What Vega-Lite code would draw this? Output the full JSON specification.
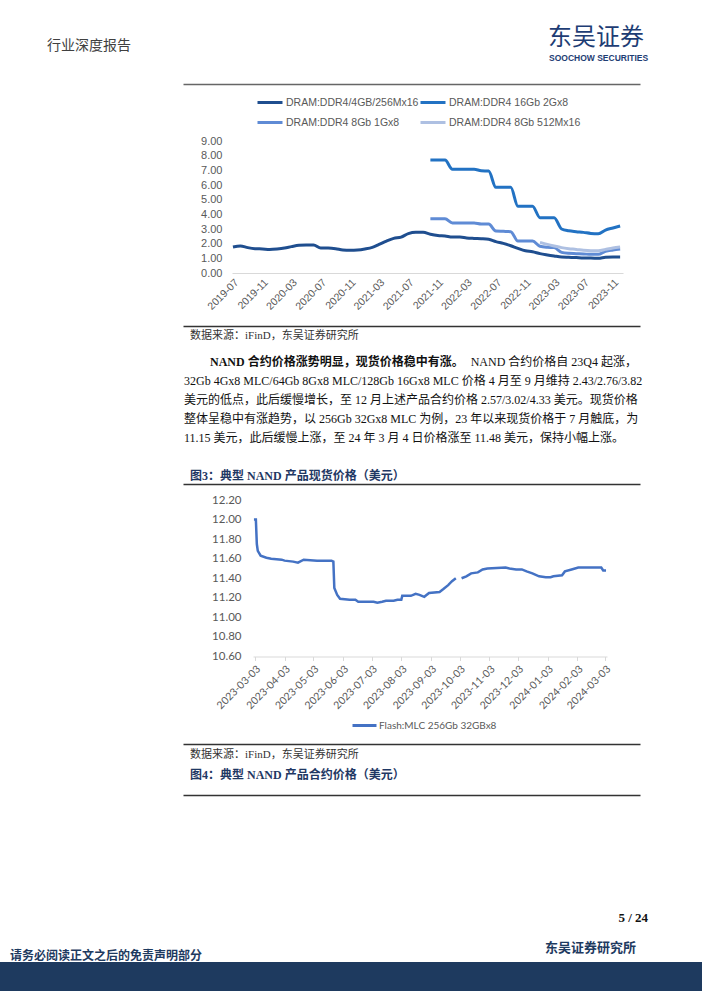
{
  "$schema": "https://vega.github.io/schema/vega-lite/v6.json",
  "padding": 0,
  "spacing": 0,
  "background": "white",
  "config": {"view": {"stroke": null}},
  "resolve": {"scale": {"color": "independent", "x": "independent", "y": "independent"}, "legend": {"color": "independent"}, "axis": {"x": "independent", "y": "independent"}},
  "vconcat": [
    {
      "width": 702, "height": 85,
      "data": {"values": [
        {"role": "header", "text": "行业深度报告"},
        {"role": "logo", "text": "东吴证券"},
        {"role": "logosub", "text": "SOOCHOW SECURITIES"}
      ]},
      "encoding": {
        "x": {"datum": 0, "type": "quantitative", "scale": {"domain": [0, 1], "range": [183, 640]},
              "axis": {"orient": "bottom", "offset": -1, "domainColor": "#666666", "domainWidth": 1.5, "labels": false, "ticks": false, "grid": false, "title": null}},
        "text": {"field": "text"}
      },
      "layer": [
        {"transform": [{"filter": "datum.role === 'header'"}],
         "mark": {"type": "text", "align": "left", "baseline": "middle", "dx": -136, "dy": 3, "font": "Liberation Serif, Noto Sans CJK SC", "fontSize": 14, "color": "#404040"}},
        {"transform": [{"filter": "datum.role === 'logo'"}],
         "mark": {"type": "text", "align": "left", "baseline": "middle", "dx": 365, "dy": -5, "font": "Noto Sans CJK SC", "fontSize": 24, "color": "#1E3D74"}},
        {"transform": [{"filter": "datum.role === 'logosub'"}],
         "mark": {"type": "text", "align": "left", "baseline": "middle", "dx": 366, "dy": 15, "font": "Liberation Sans", "fontSize": 8.5, "fontWeight": "bold", "color": "#1E3D74"}}
      ]
    },
    {
      "width": 702, "height": 240,
      "data": {"values": [
        {"series": "DRAM:DDR4/4GB/256Mx16", "month": "2019-07-01", "price": 1.77},
        {"series": "DRAM:DDR4/4GB/256Mx16", "month": "2019-08-01", "price": 1.84},
        {"series": "DRAM:DDR4/4GB/256Mx16", "month": "2019-09-01", "price": 1.73},
        {"series": "DRAM:DDR4/4GB/256Mx16", "month": "2019-10-01", "price": 1.66},
        {"series": "DRAM:DDR4/4GB/256Mx16", "month": "2019-11-01", "price": 1.64},
        {"series": "DRAM:DDR4/4GB/256Mx16", "month": "2019-12-01", "price": 1.61},
        {"series": "DRAM:DDR4/4GB/256Mx16", "month": "2020-01-01", "price": 1.64},
        {"series": "DRAM:DDR4/4GB/256Mx16", "month": "2020-02-01", "price": 1.70},
        {"series": "DRAM:DDR4/4GB/256Mx16", "month": "2020-03-01", "price": 1.80},
        {"series": "DRAM:DDR4/4GB/256Mx16", "month": "2020-04-01", "price": 1.89},
        {"series": "DRAM:DDR4/4GB/256Mx16", "month": "2020-05-01", "price": 1.91},
        {"series": "DRAM:DDR4/4GB/256Mx16", "month": "2020-06-01", "price": 1.91},
        {"series": "DRAM:DDR4/4GB/256Mx16", "month": "2020-07-01", "price": 1.70},
        {"series": "DRAM:DDR4/4GB/256Mx16", "month": "2020-08-01", "price": 1.70},
        {"series": "DRAM:DDR4/4GB/256Mx16", "month": "2020-09-01", "price": 1.66},
        {"series": "DRAM:DDR4/4GB/256Mx16", "month": "2020-10-01", "price": 1.57},
        {"series": "DRAM:DDR4/4GB/256Mx16", "month": "2020-11-01", "price": 1.55},
        {"series": "DRAM:DDR4/4GB/256Mx16", "month": "2020-12-01", "price": 1.57},
        {"series": "DRAM:DDR4/4GB/256Mx16", "month": "2021-01-01", "price": 1.64},
        {"series": "DRAM:DDR4/4GB/256Mx16", "month": "2021-02-01", "price": 1.75},
        {"series": "DRAM:DDR4/4GB/256Mx16", "month": "2021-03-01", "price": 1.95},
        {"series": "DRAM:DDR4/4GB/256Mx16", "month": "2021-04-01", "price": 2.18},
        {"series": "DRAM:DDR4/4GB/256Mx16", "month": "2021-05-01", "price": 2.36},
        {"series": "DRAM:DDR4/4GB/256Mx16", "month": "2021-06-01", "price": 2.45},
        {"series": "DRAM:DDR4/4GB/256Mx16", "month": "2021-07-01", "price": 2.68},
        {"series": "DRAM:DDR4/4GB/256Mx16", "month": "2021-08-01", "price": 2.77},
        {"series": "DRAM:DDR4/4GB/256Mx16", "month": "2021-09-01", "price": 2.77},
        {"series": "DRAM:DDR4/4GB/256Mx16", "month": "2021-10-01", "price": 2.64},
        {"series": "DRAM:DDR4/4GB/256Mx16", "month": "2021-11-01", "price": 2.55},
        {"series": "DRAM:DDR4/4GB/256Mx16", "month": "2021-12-01", "price": 2.52},
        {"series": "DRAM:DDR4/4GB/256Mx16", "month": "2022-01-01", "price": 2.45},
        {"series": "DRAM:DDR4/4GB/256Mx16", "month": "2022-02-01", "price": 2.45},
        {"series": "DRAM:DDR4/4GB/256Mx16", "month": "2022-03-01", "price": 2.39},
        {"series": "DRAM:DDR4/4GB/256Mx16", "month": "2022-04-01", "price": 2.36},
        {"series": "DRAM:DDR4/4GB/256Mx16", "month": "2022-05-01", "price": 2.34},
        {"series": "DRAM:DDR4/4GB/256Mx16", "month": "2022-06-01", "price": 2.30},
        {"series": "DRAM:DDR4/4GB/256Mx16", "month": "2022-07-01", "price": 2.14},
        {"series": "DRAM:DDR4/4GB/256Mx16", "month": "2022-08-01", "price": 2.02},
        {"series": "DRAM:DDR4/4GB/256Mx16", "month": "2022-09-01", "price": 1.86},
        {"series": "DRAM:DDR4/4GB/256Mx16", "month": "2022-10-01", "price": 1.68},
        {"series": "DRAM:DDR4/4GB/256Mx16", "month": "2022-11-01", "price": 1.52},
        {"series": "DRAM:DDR4/4GB/256Mx16", "month": "2022-12-01", "price": 1.45},
        {"series": "DRAM:DDR4/4GB/256Mx16", "month": "2023-01-01", "price": 1.32},
        {"series": "DRAM:DDR4/4GB/256Mx16", "month": "2023-02-01", "price": 1.23},
        {"series": "DRAM:DDR4/4GB/256Mx16", "month": "2023-03-01", "price": 1.16},
        {"series": "DRAM:DDR4/4GB/256Mx16", "month": "2023-04-01", "price": 1.09},
        {"series": "DRAM:DDR4/4GB/256Mx16", "month": "2023-05-01", "price": 1.07},
        {"series": "DRAM:DDR4/4GB/256Mx16", "month": "2023-06-01", "price": 1.05},
        {"series": "DRAM:DDR4/4GB/256Mx16", "month": "2023-07-01", "price": 1.02},
        {"series": "DRAM:DDR4/4GB/256Mx16", "month": "2023-08-01", "price": 1.02},
        {"series": "DRAM:DDR4/4GB/256Mx16", "month": "2023-09-01", "price": 1.00},
        {"series": "DRAM:DDR4/4GB/256Mx16", "month": "2023-10-01", "price": 1.07},
        {"series": "DRAM:DDR4/4GB/256Mx16", "month": "2023-11-01", "price": 1.09},
        {"series": "DRAM:DDR4/4GB/256Mx16", "month": "2023-12-01", "price": 1.09},
        {"series": "DRAM:DDR4 16Gb 2Gx8", "month": "2021-10-01", "price": 7.70},
        {"series": "DRAM:DDR4 16Gb 2Gx8", "month": "2021-11-01", "price": 7.70},
        {"series": "DRAM:DDR4 16Gb 2Gx8", "month": "2021-12-01", "price": 7.70},
        {"series": "DRAM:DDR4 16Gb 2Gx8", "month": "2022-01-01", "price": 7.07},
        {"series": "DRAM:DDR4 16Gb 2Gx8", "month": "2022-02-01", "price": 7.07},
        {"series": "DRAM:DDR4 16Gb 2Gx8", "month": "2022-03-01", "price": 7.07},
        {"series": "DRAM:DDR4 16Gb 2Gx8", "month": "2022-04-01", "price": 7.07},
        {"series": "DRAM:DDR4 16Gb 2Gx8", "month": "2022-05-01", "price": 6.97},
        {"series": "DRAM:DDR4 16Gb 2Gx8", "month": "2022-06-01", "price": 6.95},
        {"series": "DRAM:DDR4 16Gb 2Gx8", "month": "2022-07-01", "price": 5.84},
        {"series": "DRAM:DDR4 16Gb 2Gx8", "month": "2022-08-01", "price": 5.84},
        {"series": "DRAM:DDR4 16Gb 2Gx8", "month": "2022-09-01", "price": 5.84},
        {"series": "DRAM:DDR4 16Gb 2Gx8", "month": "2022-10-01", "price": 4.55},
        {"series": "DRAM:DDR4 16Gb 2Gx8", "month": "2022-11-01", "price": 4.55},
        {"series": "DRAM:DDR4 16Gb 2Gx8", "month": "2022-12-01", "price": 4.55},
        {"series": "DRAM:DDR4 16Gb 2Gx8", "month": "2023-01-01", "price": 3.77},
        {"series": "DRAM:DDR4 16Gb 2Gx8", "month": "2023-02-01", "price": 3.77},
        {"series": "DRAM:DDR4 16Gb 2Gx8", "month": "2023-03-01", "price": 3.77},
        {"series": "DRAM:DDR4 16Gb 2Gx8", "month": "2023-04-01", "price": 3.00},
        {"series": "DRAM:DDR4 16Gb 2Gx8", "month": "2023-05-01", "price": 2.88},
        {"series": "DRAM:DDR4 16Gb 2Gx8", "month": "2023-06-01", "price": 2.82},
        {"series": "DRAM:DDR4 16Gb 2Gx8", "month": "2023-07-01", "price": 2.77},
        {"series": "DRAM:DDR4 16Gb 2Gx8", "month": "2023-08-01", "price": 2.70},
        {"series": "DRAM:DDR4 16Gb 2Gx8", "month": "2023-09-01", "price": 2.68},
        {"series": "DRAM:DDR4 16Gb 2Gx8", "month": "2023-10-01", "price": 2.93},
        {"series": "DRAM:DDR4 16Gb 2Gx8", "month": "2023-11-01", "price": 3.07},
        {"series": "DRAM:DDR4 16Gb 2Gx8", "month": "2023-12-01", "price": 3.20},
        {"series": "DRAM:DDR4 8Gb 1Gx8", "month": "2021-10-01", "price": 3.70},
        {"series": "DRAM:DDR4 8Gb 1Gx8", "month": "2021-11-01", "price": 3.70},
        {"series": "DRAM:DDR4 8Gb 1Gx8", "month": "2021-12-01", "price": 3.70},
        {"series": "DRAM:DDR4 8Gb 1Gx8", "month": "2022-01-01", "price": 3.41},
        {"series": "DRAM:DDR4 8Gb 1Gx8", "month": "2022-02-01", "price": 3.41},
        {"series": "DRAM:DDR4 8Gb 1Gx8", "month": "2022-03-01", "price": 3.41},
        {"series": "DRAM:DDR4 8Gb 1Gx8", "month": "2022-04-01", "price": 3.41},
        {"series": "DRAM:DDR4 8Gb 1Gx8", "month": "2022-05-01", "price": 3.34},
        {"series": "DRAM:DDR4 8Gb 1Gx8", "month": "2022-06-01", "price": 3.34},
        {"series": "DRAM:DDR4 8Gb 1Gx8", "month": "2022-07-01", "price": 2.86},
        {"series": "DRAM:DDR4 8Gb 1Gx8", "month": "2022-08-01", "price": 2.84},
        {"series": "DRAM:DDR4 8Gb 1Gx8", "month": "2022-09-01", "price": 2.82},
        {"series": "DRAM:DDR4 8Gb 1Gx8", "month": "2022-10-01", "price": 2.18},
        {"series": "DRAM:DDR4 8Gb 1Gx8", "month": "2022-11-01", "price": 2.18},
        {"series": "DRAM:DDR4 8Gb 1Gx8", "month": "2022-12-01", "price": 2.18},
        {"series": "DRAM:DDR4 8Gb 1Gx8", "month": "2023-01-01", "price": 1.82},
        {"series": "DRAM:DDR4 8Gb 1Gx8", "month": "2023-02-01", "price": 1.75},
        {"series": "DRAM:DDR4 8Gb 1Gx8", "month": "2023-03-01", "price": 1.73},
        {"series": "DRAM:DDR4 8Gb 1Gx8", "month": "2023-04-01", "price": 1.41},
        {"series": "DRAM:DDR4 8Gb 1Gx8", "month": "2023-05-01", "price": 1.34},
        {"series": "DRAM:DDR4 8Gb 1Gx8", "month": "2023-06-01", "price": 1.32},
        {"series": "DRAM:DDR4 8Gb 1Gx8", "month": "2023-07-01", "price": 1.30},
        {"series": "DRAM:DDR4 8Gb 1Gx8", "month": "2023-08-01", "price": 1.27},
        {"series": "DRAM:DDR4 8Gb 1Gx8", "month": "2023-09-01", "price": 1.27},
        {"series": "DRAM:DDR4 8Gb 1Gx8", "month": "2023-10-01", "price": 1.48},
        {"series": "DRAM:DDR4 8Gb 1Gx8", "month": "2023-11-01", "price": 1.57},
        {"series": "DRAM:DDR4 8Gb 1Gx8", "month": "2023-12-01", "price": 1.64},
        {"series": "DRAM:DDR4 8Gb 512Mx16", "month": "2023-01-01", "price": 2.09},
        {"series": "DRAM:DDR4 8Gb 512Mx16", "month": "2023-02-01", "price": 1.95},
        {"series": "DRAM:DDR4 8Gb 512Mx16", "month": "2023-03-01", "price": 1.84},
        {"series": "DRAM:DDR4 8Gb 512Mx16", "month": "2023-04-01", "price": 1.73},
        {"series": "DRAM:DDR4 8Gb 512Mx16", "month": "2023-05-01", "price": 1.66},
        {"series": "DRAM:DDR4 8Gb 512Mx16", "month": "2023-06-01", "price": 1.61},
        {"series": "DRAM:DDR4 8Gb 512Mx16", "month": "2023-07-01", "price": 1.55},
        {"series": "DRAM:DDR4 8Gb 512Mx16", "month": "2023-08-01", "price": 1.52},
        {"series": "DRAM:DDR4 8Gb 512Mx16", "month": "2023-09-01", "price": 1.52},
        {"series": "DRAM:DDR4 8Gb 512Mx16", "month": "2023-10-01", "price": 1.61},
        {"series": "DRAM:DDR4 8Gb 512Mx16", "month": "2023-11-01", "price": 1.70},
        {"series": "DRAM:DDR4 8Gb 512Mx16", "month": "2023-12-01", "price": 1.77}
      ]},
      "mark": {"type": "line", "strokeWidth": 3, "interpolate": "monotone"},
      "encoding": {
        "x": {"field": "month", "type": "temporal",
          "scale": {"type": "utc", "domain": [{"year": 2019, "month": 6, "date": 27, "utc": true}, {"year": 2023, "month": 12, "date": 13, "utc": true}], "range": [232, 623]},
          "axis": {"title": null, "grid": false, "format": "%Y-%m", "labelAngle": -45, "labelOverlap": false, "offset": -52, "domainColor": "#D9D9D9", "ticks": false, "labelPadding": 4,
            "labelFont": "Liberation Sans", "labelFontSize": 10.5, "labelColor": "#595959",
            "values": [
              {"year": 2019, "month": 7, "date": 1, "utc": true}, {"year": 2019, "month": 11, "date": 1, "utc": true},
              {"year": 2020, "month": 3, "date": 1, "utc": true}, {"year": 2020, "month": 7, "date": 1, "utc": true}, {"year": 2020, "month": 11, "date": 1, "utc": true},
              {"year": 2021, "month": 3, "date": 1, "utc": true}, {"year": 2021, "month": 7, "date": 1, "utc": true}, {"year": 2021, "month": 11, "date": 1, "utc": true},
              {"year": 2022, "month": 3, "date": 1, "utc": true}, {"year": 2022, "month": 7, "date": 1, "utc": true}, {"year": 2022, "month": 11, "date": 1, "utc": true},
              {"year": 2023, "month": 3, "date": 1, "utc": true}, {"year": 2023, "month": 7, "date": 1, "utc": true}, {"year": 2023, "month": 11, "date": 1, "utc": true}
            ]}},
        "y": {"field": "price", "type": "quantitative",
          "scale": {"domain": [0, 9], "range": [188, 56], "nice": false, "zero": false},
          "axis": {"title": null, "grid": false, "domain": false, "ticks": false, "offset": -232, "labelPadding": 10, "format": ".2f",
            "values": [0, 1, 2, 3, 4, 5, 6, 7, 8, 9],
            "labelFont": "Liberation Sans", "labelFontSize": 11, "labelColor": "#595959"}},
        "color": {"field": "series", "type": "nominal",
          "scale": {"domain": ["DRAM:DDR4/4GB/256Mx16", "DRAM:DDR4 16Gb 2Gx8", "DRAM:DDR4 8Gb 1Gx8", "DRAM:DDR4 8Gb 512Mx16"],
                    "range": ["#1F4E8F", "#2272C3", "#5F8BD5", "#AEC0E2"]},
          "legend": {"title": null, "orient": "none", "legendX": 256, "legendY": 3.5, "columns": 2, "direction": "horizontal",
            "symbolType": "stroke", "symbolSize": 625, "symbolStrokeWidth": 3, "labelOffset": 2,
            "columnPadding": -6, "rowPadding": -6,
            "labelFont": "Liberation Sans", "labelFontSize": 10.5, "labelColor": "#595959"}}
      }
    },
    {
      "width": 702, "height": 27,
      "data": {"values": [{"text": "数据来源：iFinD，东吴证券研究所"}]},
      "mark": {"type": "text", "align": "left", "baseline": "middle", "dx": 7, "dy": -3, "font": "Liberation Serif, Noto Sans CJK SC", "fontSize": 11, "color": "#333333"},
      "encoding": {
        "x": {"datum": 0, "type": "quantitative", "scale": {"domain": [0, 1], "range": [183, 640]},
              "axis": {"orient": "top", "offset": -1, "domainColor": "#333333", "domainWidth": 1.5, "labels": false, "ticks": false, "grid": false, "title": null}},
        "text": {"field": "text"}
      }
    },
    {
      "width": 702, "height": 96,
      "data": {"values": [
        {"line": 1, "part": "lead", "text": "NAND 合约价格涨势明显，现货价格稳中有涨。"},
        {"line": 1, "part": "body", "text": "NAND 合约价格自 23Q4 起涨，"},
        {"line": 2, "part": "body", "text": "32Gb 4Gx8 MLC/64Gb 8Gx8 MLC/128Gb 16Gx8 MLC 价格 4 月至 9 月维持 2.43/2.76/3.82"},
        {"line": 3, "part": "body", "text": "美元的低点，此后缓慢增长，至 12 月上述产品合约价格 2.57/3.02/4.33 美元。现货价格"},
        {"line": 4, "part": "body", "text": "整体呈稳中有涨趋势，以 256Gb 32Gx8 MLC 为例，23 年以来现货价格于 7 月触底，为"},
        {"line": 5, "part": "body", "text": "11.15 美元，此后缓慢上涨，至 24 年 3 月 4 日价格涨至 11.48 美元，保持小幅上涨。"}
      ]},
      "encoding": {
        "y": {"field": "line", "type": "ordinal", "axis": null, "scale": {"type": "point", "padding": 0.5}},
        "text": {"field": "text"}
      },
      "layer": [
        {"transform": [{"filter": "datum.part === 'lead'"}],
         "mark": {"type": "text", "align": "left", "baseline": "middle", "dx": -141, "font": "Liberation Serif, Noto Sans CJK SC", "fontSize": 12, "fontWeight": "bold", "color": "#111111"}},
        {"transform": [{"filter": "datum.part === 'body' && datum.line === 1"}],
         "mark": {"type": "text", "align": "right", "baseline": "middle", "dx": 286, "font": "Liberation Serif, Noto Sans CJK SC", "fontSize": 12, "color": "#111111"}},
        {"transform": [{"filter": "datum.line > 1"}],
         "mark": {"type": "text", "align": "left", "baseline": "middle", "dx": -167, "font": "Liberation Serif, Noto Sans CJK SC", "fontSize": 12, "color": "#111111"}}
      ]
    },
    {
      "width": 702, "height": 39,
      "data": {"values": [{"text": "图3：典型 NAND 产品现货价格（美元）"}]},
      "mark": {"type": "text", "align": "left", "baseline": "middle", "dx": 7, "dy": 8, "font": "Liberation Serif, Noto Sans CJK SC", "fontSize": 12, "fontWeight": "bold", "color": "#1F3864"},
      "encoding": {
        "x": {"datum": 0, "type": "quantitative", "scale": {"domain": [0, 1], "range": [183, 640]},
              "axis": {"orient": "bottom", "offset": -3, "domainColor": "#333333", "domainWidth": 1.5, "labels": false, "ticks": false, "grid": false, "title": null}},
        "text": {"field": "text"}
      }
    },
    {
      "width": 702, "height": 256,
      "data": {"values": [
        {"date": "2023-03-02", "price": 12.00},
        {"date": "2023-03-04", "price": 12.00},
        {"date": "2023-03-05", "price": 11.75},
        {"date": "2023-03-06", "price": 11.68},
        {"date": "2023-03-09", "price": 11.63},
        {"date": "2023-03-15", "price": 11.61},
        {"date": "2023-03-20", "price": 11.60},
        {"date": "2023-03-31", "price": 11.59},
        {"date": "2023-04-03", "price": 11.58},
        {"date": "2023-04-12", "price": 11.57},
        {"date": "2023-04-17", "price": 11.56},
        {"date": "2023-04-23", "price": 11.59},
        {"date": "2023-05-07", "price": 11.58},
        {"date": "2023-05-22", "price": 11.58},
        {"date": "2023-05-24", "price": 11.57},
        {"date": "2023-05-25", "price": 11.30},
        {"date": "2023-05-28", "price": 11.23},
        {"date": "2023-05-31", "price": 11.19},
        {"date": "2023-06-10", "price": 11.18},
        {"date": "2023-06-16", "price": 11.18},
        {"date": "2023-06-19", "price": 11.16},
        {"date": "2023-07-05", "price": 11.16},
        {"date": "2023-07-09", "price": 11.15},
        {"date": "2023-07-14", "price": 11.16},
        {"date": "2023-07-18", "price": 11.17},
        {"date": "2023-07-26", "price": 11.17},
        {"date": "2023-07-30", "price": 11.18},
        {"date": "2023-08-03", "price": 11.18},
        {"date": "2023-08-04", "price": 11.22},
        {"date": "2023-08-13", "price": 11.22},
        {"date": "2023-08-18", "price": 11.24},
        {"date": "2023-08-22", "price": 11.23},
        {"date": "2023-08-27", "price": 11.21},
        {"date": "2023-09-01", "price": 11.25},
        {"date": "2023-09-12", "price": 11.26},
        {"date": "2023-09-16", "price": 11.29},
        {"date": "2023-09-21", "price": 11.33},
        {"date": "2023-09-25", "price": 11.37},
        {"date": "2023-09-29", "price": 11.40},
        {"date": "2023-10-02", "price": null},
        {"date": "2023-10-05", "price": 11.40},
        {"date": "2023-10-10", "price": 11.42},
        {"date": "2023-10-15", "price": 11.45},
        {"date": "2023-10-22", "price": 11.46},
        {"date": "2023-10-27", "price": 11.49},
        {"date": "2023-11-01", "price": 11.50},
        {"date": "2023-11-20", "price": 11.51},
        {"date": "2023-11-24", "price": 11.50},
        {"date": "2023-12-01", "price": 11.49},
        {"date": "2023-12-07", "price": 11.49},
        {"date": "2023-12-12", "price": 11.47},
        {"date": "2023-12-18", "price": 11.45},
        {"date": "2023-12-25", "price": 11.42},
        {"date": "2024-01-01", "price": 11.41},
        {"date": "2024-01-06", "price": 11.41},
        {"date": "2024-01-09", "price": 11.42},
        {"date": "2024-01-18", "price": 11.43},
        {"date": "2024-01-21", "price": 11.47},
        {"date": "2024-01-28", "price": 11.49},
        {"date": "2024-02-04", "price": 11.51},
        {"date": "2024-02-28", "price": 11.51},
        {"date": "2024-03-01", "price": 11.48},
        {"date": "2024-03-04", "price": 11.48}
      ]},
      "mark": {"type": "line", "strokeWidth": 2.5, "invalid": "break-paths-show-domains"},
      "encoding": {
        "x": {"field": "date", "type": "temporal",
          "scale": {"type": "utc", "domain": [{"year": 2023, "month": 3, "date": 1, "utc": true}, {"year": 2024, "month": 3, "date": 5, "utc": true}], "range": [253, 607]},
          "axis": {"title": null, "grid": false, "format": "%Y-%m-%d", "labelAngle": -45, "labelOverlap": false, "offset": -86.5,
            "domainColor": "#D9D9D9", "tickColor": "#D9D9D9", "tickSize": 4, "labelPadding": 3,
            "labelFont": "Lato", "labelFontSize": 10.5, "labelColor": "#595959",
            "values": [
              {"year": 2023, "month": 3, "date": 3, "utc": true}, {"year": 2023, "month": 4, "date": 3, "utc": true},
              {"year": 2023, "month": 5, "date": 3, "utc": true}, {"year": 2023, "month": 6, "date": 3, "utc": true},
              {"year": 2023, "month": 7, "date": 3, "utc": true}, {"year": 2023, "month": 8, "date": 3, "utc": true},
              {"year": 2023, "month": 9, "date": 3, "utc": true}, {"year": 2023, "month": 10, "date": 3, "utc": true},
              {"year": 2023, "month": 11, "date": 3, "utc": true}, {"year": 2023, "month": 12, "date": 3, "utc": true},
              {"year": 2024, "month": 1, "date": 3, "utc": true}, {"year": 2024, "month": 2, "date": 3, "utc": true},
              {"year": 2024, "month": 3, "date": 3, "utc": true}
            ]}},
        "y": {"field": "price", "type": "quantitative",
          "scale": {"domain": [10.6, 12.2], "range": [169.5, 13], "nice": false, "zero": false},
          "axis": {"title": null, "grid": false, "domain": false, "ticks": false, "offset": -253, "labelPadding": 12, "format": ".2f",
            "values": [10.6, 10.8, 11.0, 11.2, 11.4, 11.6, 11.8, 12.0, 12.2],
            "labelFont": "Lato", "labelFontSize": 11.5, "labelColor": "#595959"}},
        "color": {"datum": "Flash:MLC 256Gb 32GBx8", "type": "nominal",
          "scale": {"range": ["#4472C4"]},
          "legend": {"title": null, "orient": "none", "legendX": 351, "legendY": 225,
            "symbolType": "stroke", "symbolSize": 576, "symbolStrokeWidth": 3, "labelOffset": 1,
            "labelFont": "Lato", "labelFontSize": 10, "labelColor": "#595959"}}
      }
    },
    {
      "width": 702, "height": 23,
      "data": {"values": [{"text": "数据来源：iFinD，东吴证券研究所"}]},
      "mark": {"type": "text", "align": "left", "baseline": "middle", "dx": 7, "font": "Liberation Serif, Noto Sans CJK SC", "fontSize": 11, "color": "#333333"},
      "encoding": {
        "x": {"datum": 0, "type": "quantitative", "scale": {"domain": [0, 1], "range": [183, 640]},
              "axis": {"orient": "top", "offset": -1, "domainColor": "#333333", "domainWidth": 1.5, "labels": false, "ticks": false, "grid": false, "title": null}},
        "text": {"field": "text"}
      }
    },
    {
      "width": 702, "height": 30,
      "data": {"values": [{"text": "图4：典型 NAND 产品合约价格（美元）"}]},
      "mark": {"type": "text", "align": "left", "baseline": "middle", "dx": 7, "dy": -6, "font": "Liberation Serif, Noto Sans CJK SC", "fontSize": 12, "fontWeight": "bold", "color": "#1F3864"},
      "encoding": {
        "x": {"datum": 0, "type": "quantitative", "scale": {"domain": [0, 1], "range": [183, 640]},
              "axis": {"orient": "bottom", "offset": -1, "domainColor": "#333333", "domainWidth": 1.5, "labels": false, "ticks": false, "grid": false, "title": null}},
        "text": {"field": "text"}
      }
    },
    {
      "width": 702, "height": 166,
      "data": {"values": [
        {"role": "page", "text": "5 / 24"},
        {"role": "org", "text": "东吴证券研究所"},
        {"role": "notice", "text": "请务必阅读正文之后的免责声明部分"}
      ]},
      "layer": [
        {"transform": [{"filter": "datum.role === 'page'"}],
         "mark": {"type": "text", "align": "right", "baseline": "middle", "dx": 297, "dy": 39, "font": "Liberation Serif", "fontSize": 13, "fontWeight": "bold", "color": "#111111"},
         "encoding": {"text": {"field": "text"}}},
        {"transform": [{"filter": "datum.role === 'org'"}],
         "mark": {"type": "text", "align": "right", "baseline": "middle", "dx": 285, "dy": 69, "font": "Liberation Serif, Noto Sans CJK SC", "fontSize": 13, "fontWeight": "bold", "color": "#1E3A5F"},
         "encoding": {"text": {"field": "text"}}},
        {"transform": [{"filter": "datum.role === 'notice'"}],
         "mark": {"type": "text", "align": "left", "baseline": "middle", "dx": -341, "dy": 77, "font": "Liberation Serif, Noto Sans CJK SC", "fontSize": 12, "fontWeight": "bold", "color": "#1E3A5F"},
         "encoding": {"text": {"field": "text"}}}
      ]
    },
    {
      "width": 702, "height": 29,
      "view": {"fill": "#1E3A5F", "stroke": null},
      "data": {"values": [{"text": ""}]},
      "mark": {"type": "text"},
      "encoding": {"text": {"field": "text"}}
    }
  ]
}
